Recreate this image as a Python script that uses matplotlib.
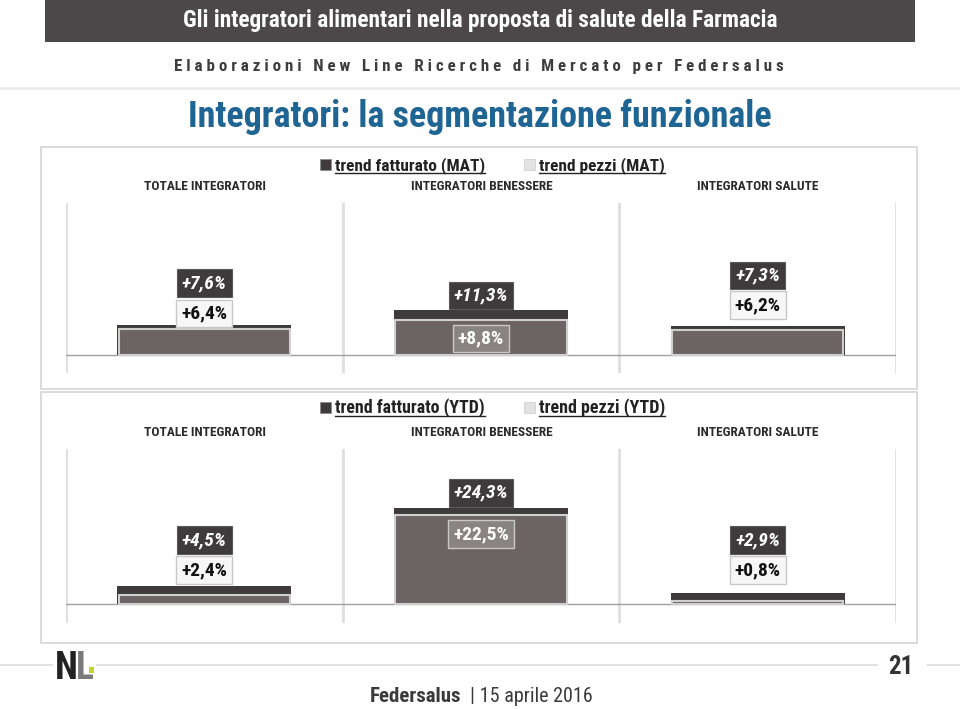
import matplotlib
matplotlib.use("Agg")
import matplotlib.pyplot as plt
from matplotlib.patches import Rectangle
from matplotlib.lines import Line2D

# data
categorie = ["TOTALE INTEGRATORI", "INTEGRATORI BENESSERE", "INTEGRATORI SALUTE"]
fatturato_mat = [7.6, 11.3, 7.3]
pezzi_mat = [6.4, 8.8, 6.2]
fatturato_ytd = [4.5, 24.3, 2.9]
pezzi_ytd = [2.4, 22.5, 0.8]

# where the value boxes sit (data units), as in the slide
lab_fatt_mat = [18.1, 15.0, 20.1]
lab_pez_mat = [10.4, 4.1, 12.5]
lab_fatt_ytd = [16.2, 28.1, 16.2]
lab_pez_ytd = [8.6, 17.7, 8.6]

W, H = 960, 709
plt.rcParams["font.family"] = ["Roboto Condensed", "DejaVu Sans"]

DARK = "#3f3a3b"
MID = "#6c6364"

fig = plt.figure(figsize=(W / 100, H / 100), dpi=100)


def fx(x):
    return x / W


def fy(y):
    return 1 - y / H


def pct(v):
    return "+" + f"{v:.1f}".replace(".", ",") + "%"


to_fit = []  # (text, width in px it has on the slide)

# header
fig.patches.append(Rectangle((fx(45), fy(42)), fx(870), 42 / H, transform=fig.transFigure,
                             facecolor="#4c4748", edgecolor="none"))
t = fig.text(fx(480), fy(21), "Gli integratori alimentari nella proposta di salute della Farmacia",
             color="white", fontsize=16, fontweight="bold", ha="center", va="center")
to_fit.append((t, 594))
t = fig.text(fx(479), fy(66), "   ".join(" ".join(w) for w in
             "Elaborazioni New Line Ricerche di Mercato per Federsalus".split()),
             color="#3d3d3d", fontsize=12, fontweight="bold", ha="center", va="center")
to_fit.append((t, 617))
fig.add_artist(Line2D([0, 1], [fy(88), fy(88)], transform=fig.transFigure, color="#ececec", lw=2))
t = fig.text(fx(480), fy(117), "Integratori: la segmentazione funzionale",
             color="#1f6593", fontsize=26, fontweight="bold", ha="center", va="center")
to_fit.append((t, 584))

# panel frames
for top, bot in [(147, 389), (392, 643)]:
    fig.patches.append(Rectangle((fx(41), fy(bot)), fx(876), (bot - top) / H,
                                 transform=fig.transFigure, facecolor="none",
                                 edgecolor="#d4d4d4", lw=1.2))

panels = [
    ("MAT", fatturato_mat, pezzi_mat, lab_fatt_mat, lab_pez_mat, 170, 186, (203, 373), (-4.7, 38.5)),
    ("YTD", fatturato_ytd, pezzi_ytd, lab_fatt_ytd, lab_pez_ytd, 413, 432, (449, 623), (-4.8, 39.2)),
]

legend_texts = []
for per, fatt, pez, lf, lp, base, cat_y, (atop, abot), ylim in panels:
    # legend
    fig.patches.append(Rectangle((fx(320), fy(base)), fx(11), 11 / H, transform=fig.transFigure,
                                 facecolor=DARK, edgecolor="#888888", lw=0.5))
    fig.patches.append(Rectangle((fx(524), fy(base)), fx(11), 11 / H, transform=fig.transFigure,
                                 facecolor="#e3e3e3", edgecolor="#cccccc", lw=0.5))
    t1 = fig.text(fx(335), fy(base), f"trend fatturato ({per})", fontsize=14,
                  fontweight="bold", color="#222222", ha="left", va="baseline")
    t2 = fig.text(fx(539), fy(base), f"trend pezzi ({per})", fontsize=14,
                  fontweight="bold", color="#222222", ha="left", va="baseline")
    to_fit += [(t1, 150), (t2, 126)]
    legend_texts += [(t1, base + 3), (t2, base + 3)]

    # category headings
    for i, c in enumerate(categorie):
        fig.text(fx(205 + i * 276.5), fy(cat_y), c, fontsize=9.6, fontweight="bold",
                 color="#2a2a2a", ha="center", va="center")

    ax = fig.add_axes([fx(66), fy(abot), fx(830), (abot - atop) / H])
    ax.set_xlim(-0.5, 2.5)
    ax.set_ylim(*ylim)
    ax.axis("off")
    for xb in [-0.5, 0.5, 1.5, 2.5]:
        ax.axvline(xb, color="#dedede", lw=2, zorder=0)
    ax.axhline(0, color="#a0a0a0", lw=1, zorder=1)

    x = range(len(categorie))
    ax.bar(x, fatt, width=0.63, color=DARK, zorder=2)
    ax.bar(x, pez, width=0.62, color=MID, edgecolor="#cfcfcf", lw=1.5, zorder=3)

    for i in x:
        ax.text(i, lf[i], pct(fatt[i]), fontsize=14, fontweight="bold", fontstyle="italic",
                color="white", ha="center", va="center", zorder=5,
                bbox=dict(boxstyle="square,pad=0.25", facecolor=DARK, edgecolor="#5a5a5a", lw=0.8))
        inside = lp[i] < pez[i]
        ax.text(i, lp[i], pct(pez[i]), fontsize=14, fontweight="bold",
                color="white" if inside else "#111111", ha="center", va="center", zorder=5,
                bbox=dict(boxstyle="square,pad=0.25", facecolor="#8a8384" if inside else "#f7f7f7",
                          edgecolor="#c8c8c8", lw=1))

# footer
fig.add_artist(Line2D([0, fx(52)], [fy(665), fy(665)], transform=fig.transFigure, color="#e2e2e2", lw=1.5))
fig.add_artist(Line2D([fx(97), fx(877)], [fy(665), fy(665)], transform=fig.transFigure, color="#e2e2e2", lw=1.5))
fig.add_artist(Line2D([fx(928), 1], [fy(665), fy(665)], transform=fig.transFigure, color="#e2e2e2", lw=1.5))
fig.text(fx(55), fy(679), "N", fontsize=27, fontweight="bold", color="#222222", ha="left", va="baseline")
fig.text(fx(76), fy(679), "L", fontsize=27, fontweight="bold", color="#7a7a7a", ha="left", va="baseline")
fig.patches.append(Rectangle((fx(89), fy(673)), fx(5), 6 / H, transform=fig.transFigure,
                             facecolor="#c5d52d", edgecolor="none"))
fig.text(fx(901), fy(667), "21", fontsize=18, fontweight="bold", color="#333333", ha="center", va="center")
fig.text(fx(461), fy(697), "Federsalus", fontsize=15, fontweight="bold", color="#3a3a3a",
         ha="right", va="center")
fig.text(fx(470), fy(697), "| 15 aprile 2016", fontsize=14.5, color="#3a3a3a", ha="left", va="center")

# size the slide texts to the widths they have on the slide
fig.canvas.draw()
r = fig.canvas.get_renderer()
for t, w in to_fit:
    bb = t.get_window_extent(r)
    t.set_fontsize(t.get_fontsize() * w / bb.width)

# underline the legend entries
fig.canvas.draw()
for t, yy in legend_texts:
    bb = t.get_window_extent(r)
    fig.add_artist(Line2D([bb.x0 / W, bb.x1 / W], [fy(yy), fy(yy)], transform=fig.transFigure,
                          color="#222222", lw=1))

fig.savefig("out.png", dpi=100)
